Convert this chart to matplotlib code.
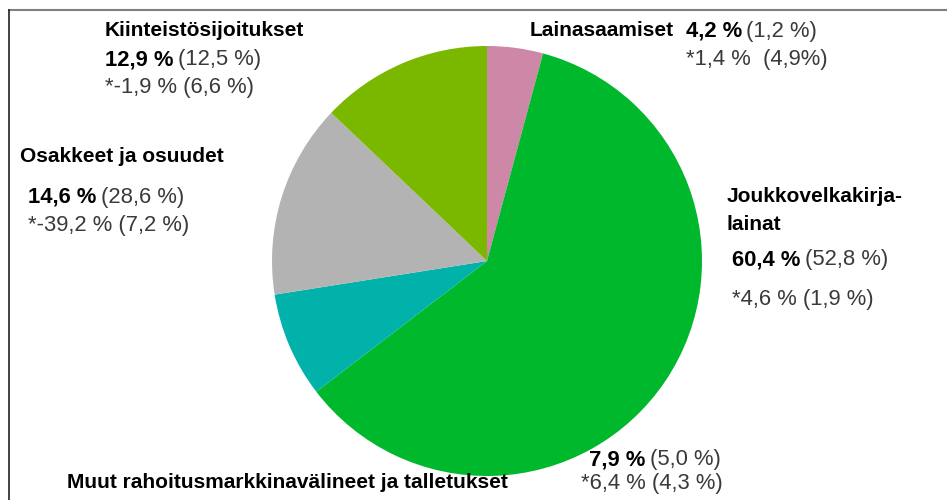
import matplotlib
matplotlib.use("Agg")
import matplotlib.pyplot as plt
from matplotlib.lines import Line2D

plt.rcParams["font.family"] = ["Liberation Sans", "DejaVu Sans"]

categories = ["Lainasaamiset", "Joukkovelkakirjalainat", "Muut rahoitusmarkkinavälineet ja talletukset",
              "Osakkeet ja osuudet", "Kiinteistösijoitukset"]
shares = [4.2, 60.4, 7.9, 14.6, 12.9]
prev_shares = ["1,2 %", "52,8 %", "5,0 %", "28,6 %", "12,5 %"]
returns = ["*1,4 %  (4,9%)", "*4,6 % (1,9 %)", "*6,4 % (4,3 %)", "*-39,2 % (7,2 %)", "*-1,9 % (6,6 %)"]
colors = ["#CC88A6", "#00B82B", "#00B2AA", "#B3B3B3", "#7AB800"]

W, H = 947, 500
fig = plt.figure(figsize=(W / 100, H / 100), dpi=100)
ax = fig.add_axes([0, 0, 1, 1])

ax.pie(shares, colors=colors, startangle=90, counterclock=False,
       center=(487, H - 261), radius=215, wedgeprops=dict(linewidth=0),
       frame=True)
ax.set_xlim(0, W)
ax.set_ylim(0, H)
ax.set_aspect("equal")
ax.axis("off")

# frame of the original slide
fig.add_artist(Line2D([9 / W, 1], [1 - 10 / H, 1 - 10 / H], color="#7f7f7f", lw=1.5))
fig.add_artist(Line2D([9 / W, 9 / W], [0, 1 - 10 / H], color="#222222", lw=1.2))

FS_LABEL = 15
FS_NUM = 15.8
GRAY = "#3a3a3a"


def share_line(x, y, i):
    t = ax.text(x, H - y, f"{shares[i]:.1f} %".replace(".", ","), fontsize=FS_NUM,
                fontweight="bold", color="black", va="center", ha="left")
    ax.annotate(f"({prev_shares[i]})", xy=(1, 0.5), xycoords=t, xytext=(3, 0),
                textcoords="offset points", fontsize=FS_NUM, color=GRAY, va="center", ha="left")


def label(x, y, s):
    ax.text(x, H - y, s, fontsize=FS_LABEL, fontweight="bold", color="black", va="center", ha="left")


def plain(x, y, s):
    ax.text(x, H - y, s, fontsize=FS_NUM, color=GRAY, va="center", ha="left")


# Kiinteistösijoitukset
label(105, 31, categories[4])
share_line(105, 60, 4)
plain(105, 88, returns[4])

# Osakkeet ja osuudet
label(20, 157, categories[3])
share_line(28, 197, 3)
plain(28, 225, returns[3])

# Lainasaamiset
label(530, 31, categories[0])
share_line(686, 31, 0)
plain(686, 60, returns[0])

# Joukkovelkakirjalainat
label(727, 197, "Joukkovelkakirja-")
label(727, 224, "lainat")
share_line(732, 260, 1)
plain(732, 300, returns[1])

# Muut rahoitusmarkkinavälineet ja talletukset
share_line(589, 460, 2)
plain(581, 484, returns[2])
label(67, 482, categories[2])

fig.savefig("out.png", dpi=100)
